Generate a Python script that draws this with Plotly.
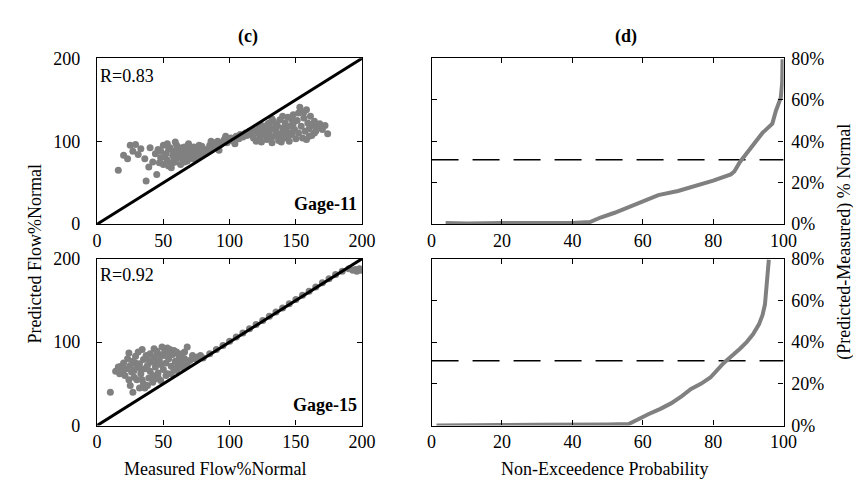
import plotly.graph_objects as go

# ---------------- data ----------------
# Panel (c) top: Gage-11 measured vs predicted (% normal)
g11_measured = [16, 20, 23, 25, 29, 27, 33, 36, 37, 39, 45, 42, 44, 40, 31,
                46, 48, 50, 50, 52, 53, 55, 56, 57, 58, 59, 60, 61, 62, 63, 64, 65, 66, 67, 68, 69, 70, 71, 72, 73, 74, 75, 76, 77, 78, 79, 80,
                48, 51, 54, 57, 60, 63, 66, 69, 72, 75, 78, 54, 58, 62, 66, 70, 74, 47, 53, 59, 64, 68, 73, 77,
                82, 84, 85, 87, 88, 90, 91, 93, 95, 96, 98, 100, 101, 103, 105, 107, 108, 110, 112, 113, 115, 86, 92, 97, 104,
                116, 118, 119, 120, 121, 122, 123, 124, 125, 126, 127, 128, 129, 130, 131, 132, 133, 134, 135, 136, 137, 138, 139, 140,
                141, 142, 143, 144, 145, 146, 147, 148, 149, 150, 124, 128, 132, 136, 140, 144, 148, 131, 135, 139, 143, 147, 126, 130, 134, 138, 142, 146,
                151, 152, 153, 154, 155, 156, 157, 158, 159, 160, 161, 162, 163, 164, 165, 166, 168, 170, 172, 174, 156, 160, 164, 152, 158]
g11_predicted = [65, 83, 79, 95, 96, 88, 91, 79, 52, 69, 60, 75, 85, 92, 84,
                 90, 80, 72, 95, 85, 77, 92, 68, 83, 88, 75, 95, 80, 86, 72, 92, 78, 84, 89, 76, 97, 82, 87, 79, 93, 85, 90, 81, 88, 84, 94, 86,
                 88, 81, 90, 74, 87, 82, 93, 86, 90, 84, 92, 70, 80, 91, 75, 91, 80, 74, 97, 99, 87, 81, 88, 95,
                 90, 88, 95, 92, 98, 94, 100, 96, 99, 102, 98, 101, 104, 100, 106, 103, 108, 105, 110, 107, 112, 100, 89, 106, 97,
                 108, 104, 113, 100, 110, 116, 105, 99, 112, 118, 107, 102, 121, 110, 115, 98, 124, 106, 113, 119, 101, 126, 109, 116,
                 104, 122, 111, 129, 100, 118, 108, 132, 114, 103, 119, 113, 127, 108, 130, 106, 121, 103, 120, 99, 117, 126, 110, 122, 116, 104, 113, 110,
                 125, 110, 141, 118, 104, 128, 112, 102, 122, 115, 130, 107, 119, 124, 112, 117, 121, 114, 119, 109, 135, 106, 110, 134, 138]

# Panel (c) bottom: Gage-15 measured vs predicted (% normal)
g15_measured = [10, 14, 16, 17, 18, 19, 20, 21, 22, 23, 24, 25, 26, 27, 28, 29, 30, 30, 31, 32, 33, 34, 35, 35, 36, 37, 38, 39, 40, 40,
                41, 42, 43, 44, 45, 46, 47, 48, 49, 50, 50, 51, 52, 53, 54, 55, 56, 57, 58, 59, 60, 61, 62, 63, 64, 65, 66, 68, 68, 70,
                72, 74, 76, 78, 32, 34, 36, 38, 42, 44, 46, 48, 52, 56, 60, 64, 27, 25, 28, 24, 33, 45, 55, 62, 66, 58, 53, 47, 43, 38, 29,
                80, 85, 90, 95, 100, 105, 110, 115, 120, 125, 130, 135, 140, 145, 150, 155, 160, 165, 170, 175, 180, 185, 190, 193, 196, 199, 198, 195]
g15_predicted = [40, 65, 70, 62, 71, 66, 75, 60, 68, 80, 87, 72, 64, 77, 58, 83, 55, 70, 88, 74, 62, 91, 79, 50, 68, 84, 72, 57, 86, 65,
                 76, 60, 82, 70, 89, 63, 78, 73, 94, 67, 84, 88, 75, 62, 80, 91, 71, 85, 68, 77, 88, 73, 82, 70, 86, 76, 80, 94, 72, 78,
                 84, 80, 82, 84, 45, 55, 45, 48, 52, 56, 58, 54, 60, 62, 66, 70, 40, 48, 66, 55, 68, 75, 85, 77, 88, 90, 93, 85, 92, 80, 75,
                 81, 86, 91, 96, 101, 106, 111, 116, 121, 126, 131, 136, 141, 146, 151, 156, 161, 166, 171, 176, 181, 185, 188, 186, 185, 186, 188, 187]

one_to_one = [0, 200]

# Panel (d): sorted (Predicted-Measured) % Normal vs non-exceedence probability
d11_prob = [4, 10, 20, 30, 40, 45, 48, 52, 57, 61, 64.4, 70, 75.5, 80, 85, 86, 87.6, 90.4, 94, 96.8, 97.8, 99.2, 99.6, 99.7]
d11_diff = [0.5, 0.3, 0.6, 0.4, 0.5, 1, 3.2, 5.5, 9, 12, 14, 16, 18.5, 21, 24, 25.4, 30, 36, 44, 48.5, 54.6, 61, 68.5, 79.5]
d15_prob = [1.4, 10, 20, 30, 40, 50, 56, 58, 61.7, 65, 68, 71, 73.7, 76.5, 79.2, 83, 85.5, 87.6, 89.5, 91.3, 93, 94, 94.7, 95, 95.3, 95.8]
d15_diff = [0, 0.3, 0.2, 0.4, 0.3, 0.5, 0.7, 2.5, 5.5, 8, 10.6, 14, 17.5, 20, 23, 30, 33.5, 36.8, 40, 43.7, 48.5, 52.9, 58, 63.5, 71, 79.5]
threshold = 31

c_ticks = [0, 50, 100, 150, 200]
c_yticks = [0, 100, 200]
d_xticks = [0, 20, 40, 60, 80, 100]
d_yticks = [0, 20, 40, 60, 80]
d_yticklabels = ["0%", "20%", "40%", "60%", "80%"]

# ---------------- figure ----------------
W, H = 861, 486
FONT = "Liberation Serif, Times New Roman, serif"
GRAY = "#808080"

def px(x):
    return x / W

def py(y):
    return 1 - y / H

fig = go.Figure()

# scatter panels
for meas, pred, xa, ya in [(g11_measured, g11_predicted, "x", "y"),
                           (g15_measured, g15_predicted, "x3", "y3")]:
    fig.add_trace(go.Scatter(x=meas, y=pred, mode="markers", xaxis=xa, yaxis=ya,
                             marker=dict(color=GRAY, size=7, line=dict(width=0)),
                             showlegend=False, hoverinfo="skip"))
    fig.add_trace(go.Scatter(x=one_to_one, y=one_to_one, mode="lines", xaxis=xa, yaxis=ya,
                             line=dict(color="black", width=3), showlegend=False, hoverinfo="skip"))

# exceedance panels
for pr, df, xa, ya in [(d11_prob, d11_diff, "x2", "y2"), (d15_prob, d15_diff, "x4", "y4")]:
    fig.add_trace(go.Scatter(x=[0, 100], y=[threshold, threshold], mode="lines", xaxis=xa, yaxis=ya,
                             line=dict(color="black", width=1.5, dash="27px,14px"),
                             showlegend=False, hoverinfo="skip"))
    fig.add_trace(go.Scatter(x=pr, y=df, mode="lines", xaxis=xa, yaxis=ya,
                             line=dict(color=GRAY, width=4), showlegend=False, hoverinfo="skip"))

axis_common = dict(showline=True, linecolor="black", linewidth=1.3, mirror="ticks",
                   ticks="inside", ticklen=5, tickcolor="black", tickwidth=1,
                   showgrid=False, zeroline=False,
                   tickfont=dict(family=FONT, size=18, color="black"))

left_x = [px(86), px(357)]
right_x = [px(428), px(788)]
top_y = [py(215), py(42)]
bot_y = [py(425), py(251)]

fig.update_layout(
    width=W, height=H,
    margin=dict(l=0, r=0, t=0, b=0),
    paper_bgcolor="white", plot_bgcolor="white",
    font=dict(family=FONT, size=18, color="black"),
    xaxis=dict(domain=left_x, anchor="y", range=[0, 200], tickvals=c_ticks, **axis_common),
    yaxis=dict(domain=top_y, anchor="x", range=[0, 200], tickvals=c_yticks, ticklabelstandoff=12, **axis_common),
    xaxis2=dict(domain=right_x, anchor="y2", range=[0, 100], tickvals=d_xticks, **axis_common),
    yaxis2=dict(domain=top_y, anchor="x2", range=[0, 80], tickvals=d_yticks, ticktext=d_yticklabels,
                side="right", ticklabelstandoff=3, **axis_common),
    xaxis3=dict(domain=left_x, anchor="y3", range=[0, 200], tickvals=c_ticks, **axis_common),
    yaxis3=dict(domain=bot_y, anchor="x3", range=[0, 200], tickvals=c_yticks, ticklabelstandoff=12, **axis_common),
    xaxis4=dict(domain=right_x, anchor="y4", range=[0, 100], tickvals=d_xticks, **axis_common),
    yaxis4=dict(domain=bot_y, anchor="x4", range=[0, 80], tickvals=d_yticks, ticktext=d_yticklabels,
                side="right", ticklabelstandoff=3, **axis_common),
)

ann = [
    dict(text="<b>(c)</b>", x=px(240), y=py(19)),
    dict(text="<b>(d)</b>", x=px(627), y=py(19)),
    dict(text="R=0.83", x=px(87), y=py(60), xanchor="left"),
    dict(text="R=0.92", x=px(87), y=py(268), xanchor="left"),
    dict(text="<b>Gage-11</b>", x=px(354), y=py(194), xanchor="right"),
    dict(text="<b>Gage-15</b>", x=px(354), y=py(404), xanchor="right"),
    dict(text="Measured Flow%Normal", x=px(207), y=py(470)),
    dict(text="Non-Exceedence Probability", x=px(605), y=py(470)),
    dict(text="Predicted Flow%Normal", x=px(22), y=py(246), textangle=-90),
    dict(text="(Predicted-Measured) % Normal", x=px(850), y=py(233), textangle=-90),
]
for a in ann:
    a.setdefault("xanchor", "center")
    fig.add_annotation(xref="paper", yref="paper", yanchor="middle", showarrow=False,
                       font=dict(family=FONT, size=18, color="black"), **a)

fig.write_html("out.html")
